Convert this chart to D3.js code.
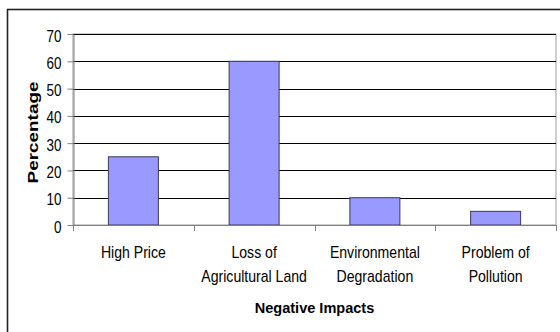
<!DOCTYPE html>
<html>
<head>
<meta charset="utf-8">
<script src="https://cdn.jsdelivr.net/npm/d3@7"></script>
<style>
  html, body { margin: 0; padding: 0; background: #fff; }
  svg { display: block; font-family: "Liberation Sans", Arial, sans-serif; }
</style>
</head>
<body>
<svg id="chart" width="560" height="332"></svg>
<script>
// Survey results: share of respondents naming each negative impact
const categories = [
  ["High Price"],
  ["Loss of", "Agricultural Land"],
  ["Environmental", "Degradation"],
  ["Problem of", "Pollution"]
];
const values = [25, 60, 10, 5];
const yTicks = [0, 10, 20, 30, 40, 50, 60, 70];
const xTitle = "Negative Impacts";
const yTitle = "Percentage";

const svg = d3.select("#chart");
const W = 560, H = 332;
const plot = { left: 73, right: 556, top: 34, bottom: 225 };

svg.append("rect").attr("width", W).attr("height", H).attr("fill", "#fff");

// outer chart frame (runs off the right and bottom edges)
svg.append("rect")
  .attr("x", 7.5).attr("y", 9.5)
  .attr("width", W + 10).attr("height", H + 10)
  .attr("fill", "none").attr("stroke", "#222").attr("stroke-width", 1.6);

const idx = categories.map((d, i) => i);
const x = d3.scaleBand()
  .domain(idx)
  .range([plot.left, plot.right])
  .paddingInner(0.586)
  .paddingOuter(0.293);
const step = (plot.right - plot.left) / categories.length;

const y = d3.scaleLinear().domain([0, 70]).range([plot.bottom, plot.top]);

// plot area
svg.append("rect")
  .attr("x", plot.left).attr("y", plot.top)
  .attr("width", plot.right - plot.left).attr("height", plot.bottom - plot.top)
  .attr("fill", "#fff").attr("stroke", "#9a9a9a").attr("stroke-width", 1);

// gridlines
svg.append("g").selectAll("line")
  .data(yTicks.filter(t => t > 0))
  .join("line")
  .attr("x1", plot.left).attr("x2", plot.right)
  .attr("y1", d => Math.round(y(d)) + 0.5).attr("y2", d => Math.round(y(d)) + 0.5)
  .attr("stroke", "#000").attr("stroke-width", 1);

// bars
svg.append("g").selectAll("rect")
  .data(values)
  .join("rect")
  .attr("x", (d, i) => x(i))
  .attr("width", x.bandwidth())
  .attr("y", d => y(d))
  .attr("height", d => y(0) - y(d))
  .attr("fill", "#9999ff")
  .attr("stroke", "#3a3a55").attr("stroke-width", 1);

// y axis
const yAxis = svg.append("g")
  .attr("transform", `translate(${plot.left + 0.5},0)`)
  .call(d3.axisLeft(y).tickValues(yTicks).tickSize(6).tickSizeOuter(0).tickFormat(d3.format("d")));
yAxis.select(".domain").attr("stroke", "#808080");
yAxis.selectAll(".tick line").attr("stroke", "#808080");
yAxis.selectAll(".tick text")
  .attr("x", 0).attr("dy", null).attr("y", 0)
  .attr("fill", "#000")
  .style("font-size", "16px")
  .attr("text-anchor", "end")
  .attr("transform", "translate(-12,7) scale(0.84,1)");

// x axis: ticks at category boundaries
const boundaries = d3.range(categories.length + 1).map(i => plot.left + i * step);
const xb = svg.append("g");
xb.append("line")
  .attr("x1", plot.left).attr("x2", plot.right)
  .attr("y1", plot.bottom + 0.5).attr("y2", plot.bottom + 0.5)
  .attr("stroke", "#808080");
xb.selectAll("line.tk")
  .data(boundaries)
  .join("line").attr("class", "tk")
  .attr("x1", d => Math.round(d) + 0.5).attr("x2", d => Math.round(d) + 0.5)
  .attr("y1", plot.bottom).attr("y2", plot.bottom + 6)
  .attr("stroke", "#808080");

// category labels
const labels = svg.append("g");
categories.forEach((lines, i) => {
  const cx = x(i) + x.bandwidth() / 2;
  lines.forEach((t, j) => {
    labels.append("text")
      .attr("transform", `translate(${cx},${258 + j * 23.5}) scale(0.88,1)`)
      .attr("text-anchor", "middle")
      .style("font-size", "16px")
      .attr("fill", "#000")
      .text(t);
  });
});

// axis titles
svg.append("text")
  .attr("transform", `translate(${(plot.left + plot.right) / 2},313) scale(0.97,1)`)
  .attr("text-anchor", "middle")
  .style("font-size", "15px").style("font-weight", "bold")
  .text(xTitle);

svg.append("text")
  .attr("transform", "translate(38,132.5) rotate(-90) scale(1.35,1)")
  .attr("text-anchor", "middle")
  .style("font-size", "14px").style("font-weight", "bold")
  .text(yTitle);
</script>
</body>
</html>
